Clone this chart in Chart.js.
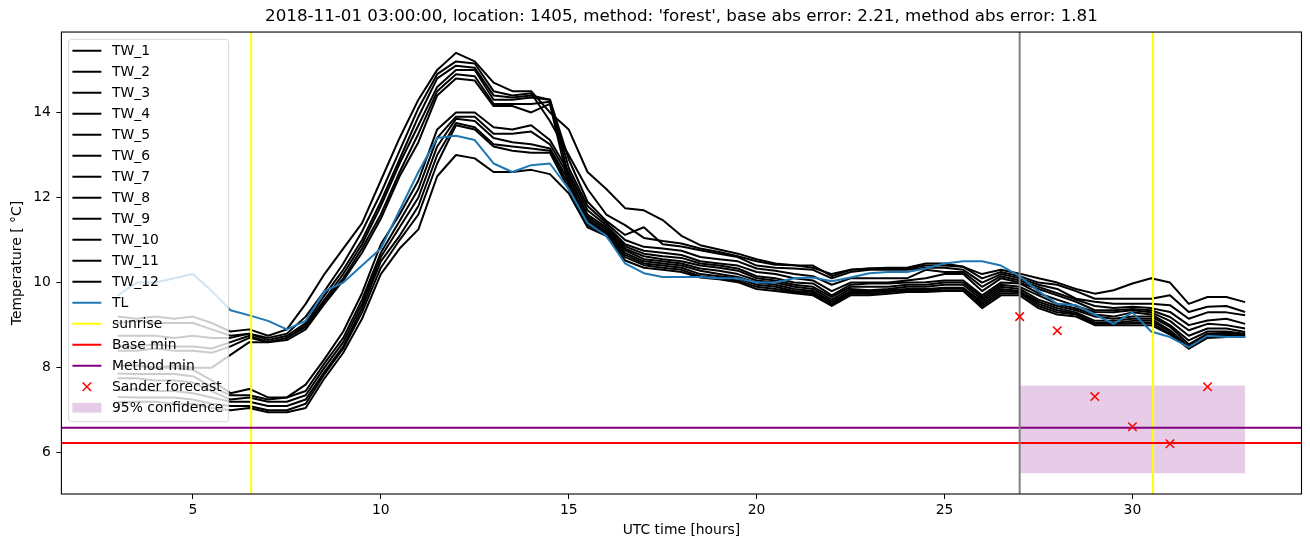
<!DOCTYPE html>
<html>
<head>
<meta charset="utf-8">
<script src="https://cdn.jsdelivr.net/npm/chart.js@4.4.1/dist/chart.umd.min.js"></script>
<style>
  html, body { margin: 0; padding: 0; background: #fff; }
  canvas { display: block; }
</style>
</head>
<body>
<canvas id="chart" width="1310" height="547"></canvas>
<script>
// UTC hours of the samples (half-hour steps)
const hours = [3, 3.5, 4, 4.5, 5, 5.5, 6, 6.5, 7, 7.5, 8, 8.5, 9, 9.5, 10, 10.5, 11, 11.5, 12, 12.5,
  13, 13.5, 14, 14.5, 15, 15.5, 16, 16.5, 17, 17.5, 18, 18.5, 19, 19.5, 20, 20.5, 21, 21.5, 22, 22.5,
  23, 23.5, 24, 24.5, 25, 25.5, 26, 26.5, 27, 27.5, 28, 28.5, 29, 29.5, 30, 30.5, 31, 31.5, 32, 32.5, 33];

const tw1 = [9.2, 9.15, 9.2, 9.15, 9.2, 9.05, 8.85, 8.9, 8.75, 8.9, 9.5, 10.2, 10.8, 11.4, 12.4, 13.4, 14.3, 15.0,
  15.4, 15.2, 14.7, 14.5, 14.5, 14.0, 13.6, 12.6, 12.2, 11.75, 11.7, 11.47, 11.1, 10.88, 10.78, 10.68,
  10.55, 10.45, 10.41, 10.4, 10.15, 10.3, 10.33, 10.35, 10.35, 10.45, 10.45, 10.37, 10.2, 10.3,
  10.21, 10.1, 10.0, 9.85, 9.74, 9.82, 9.98, 10.1, 10.0, 9.5, 9.66, 9.66, 9.54];
const tw2 = [9.05, 9.1, 9.05, 9.05, 9.05, 8.9, 8.75, 8.8, 8.7, 8.8, 9.2, 9.8, 10.45, 11.2, 12.1, 13.1, 14.1, 14.9,
  15.2, 15.15, 14.5, 14.4, 14.45, 13.8, 13.0, 12.2, 11.6, 11.35, 11.05, 10.98, 10.92, 10.8, 10.72, 10.62,
  10.5, 10.42, 10.41, 10.35, 10.2, 10.3, 10.33, 10.33, 10.33, 10.4, 10.4, 10.37, 10.1, 10.25,
  10.15, 10.0, 9.95, 9.8, 9.62, 9.62, 9.62, 9.62, 9.7, 9.31, 9.43, 9.45, 9.31];
const tw3 = [8.75, 8.75, 8.75, 8.7, 8.75, 8.7, 8.7, 8.8, 8.65, 8.75, 9.05, 9.7, 10.3, 11.0, 11.9, 12.9, 13.9, 14.8,
  15.1, 15.05, 14.4, 14.35, 14.4, 14.3, 12.9, 11.9, 11.45, 11.12, 11.3, 10.9, 10.85, 10.76, 10.68, 10.6,
  10.4, 10.35, 10.33, 10.3, 10.1, 10.25, 10.3, 10.3, 10.3, 10.35, 10.35, 10.3, 10.0, 10.2,
  10.1, 9.95, 9.85, 9.62, 9.55, 9.5, 9.5, 9.5, 9.47, 9.15, 9.3, 9.3, 9.23];
const tw4 = [8.5, 8.5, 8.55, 8.5, 8.5, 8.45, 8.6, 8.75, 8.6, 8.7, 9.0, 9.6, 10.2, 10.9, 11.8, 12.8, 13.7, 14.6,
  15.0, 15.0, 14.3, 14.3, 14.35, 14.3, 12.7, 11.8, 11.4, 11.0, 10.84, 10.8, 10.75, 10.6, 10.55, 10.5,
  10.33, 10.28, 10.2, 10.15, 9.95, 10.1, 10.1, 10.1, 10.1, 10.3, 10.25, 10.25, 9.9, 10.15,
  10.05, 9.9, 9.75, 9.6, 9.45, 9.4, 9.43, 9.4, 9.31, 9.0, 9.11, 9.15, 9.03];
const tw5 = [8.4, 8.4, 8.45, 8.4, 8.4, 8.35, 8.5, 8.7, 8.6, 8.7, 8.95, 9.55, 10.1, 10.8, 11.6, 12.6, 13.5, 14.5,
  14.9, 14.85, 14.2, 14.2, 14.2, 14.25, 12.5, 11.6, 11.3, 10.85, 10.68, 10.62, 10.58, 10.45, 10.4, 10.33,
  10.15, 10.1, 10.0, 9.98, 9.7, 9.95, 9.98, 9.98, 10.0, 10.01, 10.05, 10.05, 9.7, 10.0,
  9.98, 9.75, 9.6, 9.45, 9.31, 9.3, 9.35, 9.3, 9.1, 8.75, 8.92, 8.92, 8.84];
const tw6 = [8.05, 8.05, 8.0, 8.05, 8.0, 8.0, 8.3, 8.6, 8.6, 8.65, 8.9, 9.5, 10.05, 10.7, 11.5, 12.5, 13.3, 14.4,
  14.8, 14.75, 14.15, 14.15, 14.0, 14.2, 12.3, 11.5, 11.2, 10.76, 10.55, 10.5, 10.45, 10.33, 10.28, 10.2,
  10.05, 10.0, 9.9, 9.85, 9.6, 9.85, 9.82, 9.85, 9.9, 9.9, 9.95, 9.95, 9.6, 9.9,
  9.85, 9.6, 9.45, 9.35, 9.2, 9.15, 9.2, 9.2, 8.96, 8.55, 8.8, 8.82, 8.78];
const tw7 = [8.05, 8.05, 8.0, 8.0, 7.95, 7.7, 7.4, 7.5, 7.3, 7.3, 7.6, 8.2, 8.85, 9.75, 10.9, 11.6, 12.4, 13.6,
  14.0, 14.0, 13.65, 13.6, 13.7, 13.35, 12.6, 11.7, 11.35, 10.9, 10.75, 10.7, 10.65, 10.5, 10.45, 10.4,
  10.25, 10.2, 10.1, 10.05, 9.8, 10.0, 10.0, 10.0, 10.05, 10.1, 10.2, 10.2, 9.8, 10.1,
  10.0, 9.85, 9.7, 9.55, 9.35, 9.35, 9.38, 9.35, 9.19, 8.88, 9.03, 9.0, 8.92];
const tw8 = [7.86, 7.85, 7.85, 7.85, 7.8, 7.55, 7.35, 7.35, 7.25, 7.3, 7.45, 8.1, 8.7, 9.6, 10.7, 11.45, 12.2, 13.4,
  13.9, 13.9, 13.5, 13.5, 13.55, 13.25, 12.5, 11.55, 11.25, 10.8, 10.62, 10.55, 10.5, 10.4, 10.35, 10.28,
  10.1, 10.05, 9.95, 9.9, 9.66, 9.9, 9.9, 9.9, 9.95, 9.95, 10.0, 10.0, 9.65, 9.95,
  9.9, 9.7, 9.5, 9.39, 9.25, 9.2, 9.3, 9.25, 9.0, 8.64, 8.85, 8.85, 8.8];
const tw9 = [7.75, 7.75, 7.7, 7.7, 7.65, 7.45, 7.25, 7.3, 7.2, 7.2, 7.35, 8.0, 8.6, 9.5, 10.6, 11.3, 12.0, 13.2,
  13.85, 13.8, 13.4, 13.3, 13.25, 13.15, 12.4, 11.45, 11.18, 10.7, 10.5, 10.45, 10.4, 10.28, 10.2, 10.13,
  10.0, 9.95, 9.85, 9.8, 9.55, 9.8, 9.8, 9.82, 9.85, 9.85, 9.88, 9.88, 9.55, 9.85,
  9.8, 9.55, 9.4, 9.3, 9.1, 9.1, 9.15, 9.15, 8.88, 8.5, 8.78, 8.8, 8.75];
const tw10 = [7.47, 7.5, 7.45, 7.45, 7.4, 7.3, 7.2, 7.2, 7.1, 7.1, 7.25, 7.9, 8.5, 9.4, 10.5, 11.1, 11.8, 13.0,
  13.75, 13.65, 13.25, 13.2, 13.15, 13.1, 12.3, 11.4, 11.15, 10.65, 10.45, 10.4, 10.35, 10.2, 10.15, 10.1,
  9.95, 9.9, 9.8, 9.78, 9.5, 9.78, 9.78, 9.8, 9.82, 9.82, 9.86, 9.86, 9.5, 9.8,
  9.78, 9.5, 9.35, 9.27, 9.05, 9.05, 9.1, 9.1, 8.85, 8.45, 8.75, 8.78, 8.75];
const tw11 = [7.31, 7.3, 7.3, 7.3, 7.25, 7.15, 7.1, 7.1, 7.0, 7.0, 7.15, 7.85, 8.45, 9.3, 10.35, 11.0, 11.6, 12.8,
  13.7, 13.6, 13.2, 13.1, 13.05, 13.05, 12.2, 11.35, 11.12, 10.6, 10.41, 10.35, 10.3, 10.15, 10.1, 10.05,
  9.9, 9.85, 9.78, 9.74, 9.47, 9.74, 9.74, 9.78, 9.8, 9.8, 9.82, 9.82, 9.45, 9.75,
  9.75, 9.45, 9.3, 9.25, 9.03, 9.03, 9.05, 9.05, 8.8, 8.45, 8.72, 8.75, 8.72];
const tw12 = [7.19, 7.2, 7.2, 7.15, 7.15, 7.05, 7.0, 7.05, 6.95, 6.95, 7.05, 7.75, 8.35, 9.15, 10.2, 10.8, 11.25, 12.5,
  13.0, 12.92, 12.6, 12.6, 12.65, 12.55, 12.1, 11.3, 11.1, 10.52, 10.35, 10.3, 10.25, 10.12, 10.08, 10.01,
  9.85, 9.8, 9.75, 9.7, 9.45, 9.7, 9.7, 9.74, 9.78, 9.78, 9.8, 9.8, 9.4, 9.7,
  9.7, 9.4, 9.25, 9.2, 9.0, 9.0, 9.0, 9.0, 8.78, 8.45, 8.7, 8.72, 8.72];
const tl = [9.7, 10.0, 10.0, 10.1, 10.2, 9.8, 9.35, 9.23, 9.1, 8.9, 9.1, 9.8, 10.0, 10.4, 10.8, 11.7, 12.6, 13.4,
  13.45, 13.35, 12.8, 12.6, 12.76, 12.8, 12.2, 11.4, 11.1, 10.45, 10.22, 10.13, 10.13, 10.13, 10.1, 10.1,
  10.0, 10.0, 10.1, 10.12, 10.03, 10.12, 10.22, 10.25, 10.25, 10.33, 10.45, 10.5, 10.5, 10.4,
  10.15, 9.8, 9.5, 9.47, 9.25, 9.03, 9.3, 8.85, 8.72, 8.48, 8.75, 8.72, 8.72];

const forecastHours = [27, 28, 29, 30, 31, 32];
const forecastTemps = [9.2, 8.87, 7.32, 6.61, 6.21, 7.55];
const sunriseHours = [6.55, 30.55];
const nowHour = 27;
const baseMin = 6.23;
const methodMin = 6.59;
const confHours = [27, 33];
const confRange = [5.52, 7.58];

const xLimits = [1.5, 34.5];
const yLimits = [5.03, 15.89];
const xTicks = [5, 10, 15, 20, 25, 30];
const yTicks = [6, 8, 10, 12, 14];

const twSeries = [tw1, tw2, tw3, tw4, tw5, tw6, tw7, tw8, tw9, tw10, tw11, tw12];
const toPoints = (xs, ys) => xs.map((x, i) => ({ x, y: ys[i] }));
const vline = (x) => [{ x, y: yLimits[0] }, { x, y: yLimits[1] }];
const hline = (y) => [{ x: xLimits[0], y }, { x: xLimits[1], y }];

const MARKER_R = 6;

const datasets = [
  ...twSeries.map((vals, i) => ({
    label: `TW_${i + 1}`, data: toPoints(hours, vals), borderColor: '#000000', order: 10,
  })),
  { label: 'TL', data: toPoints(hours, tl), borderColor: '#1f77b4', order: 9 },
  { label: 'sunrise', data: vline(sunriseHours[0]), borderColor: '#ffff00', order: 8 },
  { data: vline(sunriseHours[1]), borderColor: '#ffff00', order: 8 },
  { label: 'Base min', data: hline(baseMin), borderColor: '#ff0000', order: 7 },
  { label: 'Method min', data: hline(methodMin), borderColor: '#800080', order: 7 },
  { data: vline(nowHour), borderColor: '#808080', order: 6 },
  {
    label: 'Sander forecast', data: toPoints(forecastHours, forecastTemps), showLine: false,
    pointStyle: 'crossRot', pointRadius: MARKER_R, pointBorderColor: '#ff0000', pointBorderWidth: 1.5, order: 1,
  },
  {
    label: '95% confidence', data: toPoints(confHours, [confRange[1], confRange[1]]),
    fill: { target: { value: confRange[0] } }, backgroundColor: 'rgba(128,0,128,0.2)',
    borderColor: 'rgba(0,0,0,0)', borderWidth: 0, order: 20,
  },
];

// axes frame on all four sides, like matplotlib spines
const framePlugin = {
  id: 'frame',
  afterDatasetsDraw(chart) {
    const { ctx, chartArea: a } = chart;
    ctx.save();
    ctx.strokeStyle = '#000';
    ctx.lineWidth = 1.1;
    ctx.strokeRect(a.left, a.top, a.right - a.left, a.bottom - a.top);
    ctx.restore();
  },
};

// semi-transparent legend box drawn inside the plot area, over the lines
const boxLegend = {
  id: 'boxLegend',
  afterDraw(chart) {
    const { ctx, chartArea } = chart;
    const items = chart.data.datasets.filter((ds) => ds.label);
    const rowH = 21;
    const left = chartArea.left + 7.2;
    const top = chartArea.top + 7.3;
    const w = 160;
    const h = 11.4 + (items.length - 1) * rowH + 14;
    ctx.save();
    ctx.beginPath();
    ctx.roundRect(left, top, w, h, 3);
    ctx.fillStyle = 'rgba(255,255,255,0.8)';
    ctx.fill();
    ctx.strokeStyle = 'rgba(204,204,204,0.8)';
    ctx.lineWidth = 1;
    ctx.stroke();

    ctx.font = '13.9px "DejaVu Sans"';
    ctx.textBaseline = 'middle';
    items.forEach((ds, i) => {
      const y = top + 11.4 + i * rowH;
      const x0 = left + 3.8;
      const x1 = left + 32.8;
      if (ds.showLine === false) {
        const cx = (x0 + x1) / 2, r = MARKER_R * Math.SQRT1_2;
        ctx.strokeStyle = ds.pointBorderColor;
        ctx.lineWidth = ds.pointBorderWidth;
        ctx.beginPath();
        ctx.moveTo(cx - r, y - r); ctx.lineTo(cx + r, y + r);
        ctx.moveTo(cx - r, y + r); ctx.lineTo(cx + r, y - r);
        ctx.stroke();
      } else if (ds.fill) {
        ctx.fillStyle = ds.backgroundColor;
        ctx.fillRect(x0, y - 4.9, x1 - x0, 9.8);
      } else {
        ctx.strokeStyle = ds.borderColor;
        ctx.lineWidth = 2;
        ctx.beginPath();
        ctx.moveTo(x0, y); ctx.lineTo(x1, y);
        ctx.stroke();
      }
      ctx.fillStyle = '#000';
      ctx.fillText(ds.label, left + 43.4, y + 0.5);
    });
    ctx.restore();
  },
};

Chart.defaults.font.family = '"DejaVu Sans"';
Chart.defaults.font.size = 13.9;
Chart.defaults.color = '#000';

const axisGrid = { drawOnChartArea: false, drawTicks: true, tickLength: 5, color: '#000', tickColor: '#000' };

new Chart(document.getElementById('chart'), {
  type: 'line',
  data: { datasets },
  options: {
    responsive: false,
    devicePixelRatio: 1,
    animation: false,
    events: [],
    layout: { padding: { left: 0, right: 8.5, top: 0, bottom: 0 } },
    elements: {
      point: { radius: 0 },
      line: { borderWidth: 2, borderJoinStyle: 'round', borderCapStyle: 'butt', tension: 0, fill: false },
    },
    plugins: {
      legend: { display: false },
      tooltip: { enabled: false },
      title: {
        display: true,
        fullSize: false,
        text: "2018-11-01 03:00:00, location: 1405, method: 'forest', base abs error: 2.21, method abs error: 1.81",
        color: '#000',
        font: { size: 16.7, weight: 'normal' },
        padding: { top: 7, bottom: 5 },
      },
    },
    scales: {
      x: {
        type: 'linear',
        min: xLimits[0],
        max: xLimits[1],
        afterBuildTicks: (s) => { s.ticks = xTicks.map((v) => ({ value: v })); },
        afterFit: (s) => { s.height = 53; },
        grid: axisGrid,
        border: { display: false },
        ticks: { color: '#000', padding: 3, maxRotation: 0, autoSkip: false },
        title: { display: true, text: 'UTC time [hours]', color: '#000', padding: { top: 0, bottom: 8.7 } },
      },
      y: {
        type: 'linear',
        min: yLimits[0],
        max: yLimits[1],
        afterBuildTicks: (s) => { s.ticks = yTicks.map((v) => ({ value: v })); },
        afterFit: (s) => { s.width = 61.4; },
        grid: axisGrid,
        border: { display: false },
        ticks: { color: '#000', padding: 5.5, autoSkip: false },
        title: { display: true, text: 'Temperature [ \u00b0C]', color: '#000', padding: { top: 8.7, bottom: 0 } },
      },
    },
  },
  plugins: [framePlugin, boxLegend],
});
</script>
</body>
</html>
